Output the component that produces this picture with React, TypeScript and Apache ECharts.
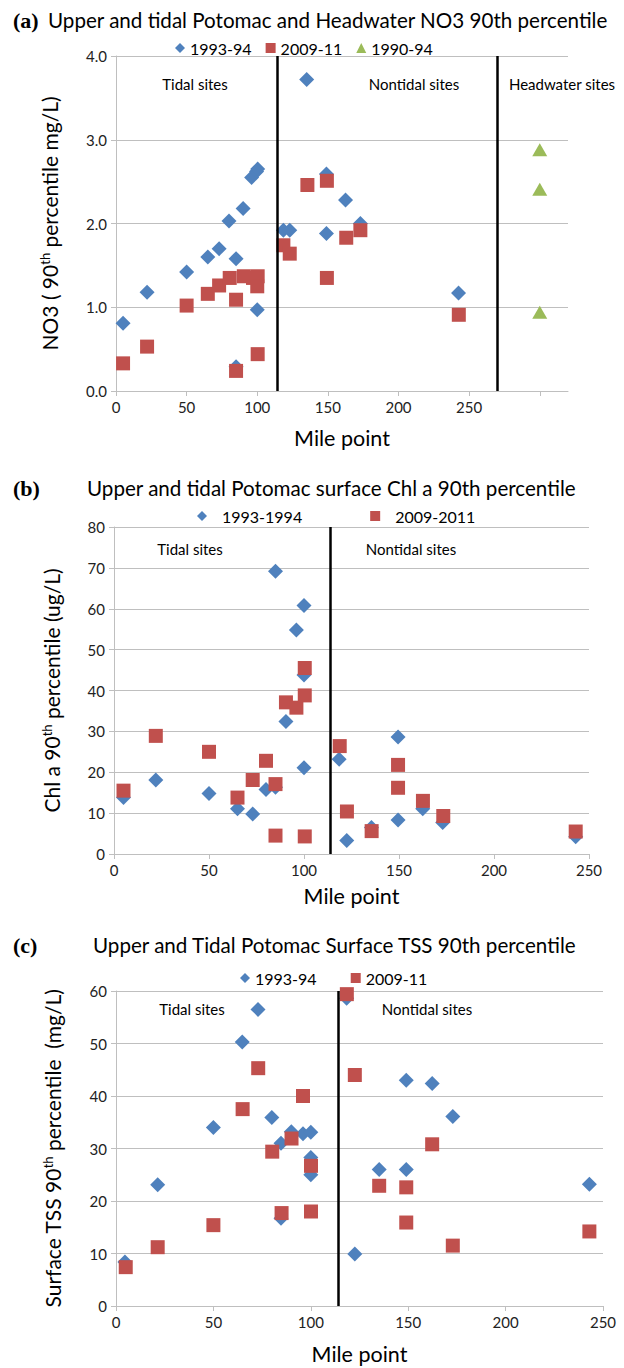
import React, { useEffect, useRef } from "react";
import * as echarts from "echarts";

// ---------- Panel (a): NO3 90th percentile ----------
const aMile9394 = [5, 22, 50, 65, 73, 80, 85, 85, 90, 96, 99.5, 100.3, 100, 118.5, 123, 135, 149, 149, 162.5, 173, 242.5];
const aNO39394 = [0.81, 1.18, 1.42, 1.6, 1.7, 2.03, 1.58, 0.29, 2.18, 2.55, 2.62, 2.65, 0.97, 1.92, 1.92, 3.72, 2.59, 1.88, 2.28, 2.0, 1.17];
const aMile0911 = [5, 22, 50, 65, 73, 80.5, 85, 85, 90.5, 97, 100.3, 100, 100.3, 118.5, 123, 135.5, 149.3, 149.3, 163, 173, 242.7];
const aNO30911 = [0.33, 0.53, 1.02, 1.16, 1.26, 1.35, 1.09, 0.24, 1.37, 1.35, 1.37, 1.25, 0.44, 1.74, 1.64, 2.46, 2.51, 1.35, 1.83, 1.92, 0.91];
const aMile9094 = [300, 300, 300];
const aNO39094 = [2.88, 2.41, 0.94];
const aDividers = [114, 270];

// ---------- Panel (b): Chl a 90th percentile ----------
const bMile9394 = [5, 22, 50, 65, 73, 80, 85, 85, 90.5, 96, 100, 100, 100, 118.5, 122.5, 135.5, 149.5, 149.5, 162.5, 173, 243];
const bChl9394 = [13.8, 18.1, 14.8, 11.1, 9.8, 15.8, 16.3, 69.2, 32.4, 54.8, 60.8, 43.8, 21.1, 23.2, 3.3, 6.5, 28.6, 8.3, 11.1, 7.7, 4.2];
const bMile0911 = [5, 22, 50, 65, 73, 80, 85, 85, 90.5, 96, 100.4, 100.4, 100.4, 118.8, 122.6, 135.6, 149.5, 149.5, 162.6, 173.3, 243];
const bChl0911 = [15.5, 28.9, 25.0, 13.8, 18.1, 22.8, 17.1, 4.5, 37.1, 35.8, 45.5, 38.8, 4.3, 26.4, 10.4, 5.6, 21.8, 16.2, 13.0, 9.3, 5.5];
const bDividers = [114];

// ---------- Panel (c): TSS 90th percentile ----------
const cMile9394 = [4.6, 21.4, 50, 64.8, 72.9, 80, 84.7, 84.7, 90, 96, 100, 100, 100, 118.4, 122.6, 135.1, 149, 149, 162.3, 172.9, 243];
const cTSS9394 = [8.4, 23.1, 34.0, 50.3, 56.5, 35.9, 31.0, 16.7, 33.2, 32.8, 33.1, 28.3, 25.0, 58.6, 9.9, 26.0, 43.0, 26.0, 42.4, 36.1, 23.2];
const cMile0911 = [5, 21.4, 50, 65, 73, 80.2, 85, 90.1, 96, 100.1, 100.1, 118.5, 122.6, 135.1, 149, 149, 162.3, 172.9, 243];
const cTSS0911 = [7.4, 11.2, 15.4, 37.5, 45.3, 29.4, 17.7, 31.9, 40.0, 26.7, 18.0, 59.4, 44.0, 22.9, 22.6, 15.9, 30.8, 11.5, 14.2];
const cDividers = [114];

const xTicksA = [0, 50, 100, 150, 200, 250, 300];

const BLUE = "#4F81BD";
const RED = "#C0504D";
const GREEN = "#9BBB59";
const FONT = "Lato";
const GRIDC = "#BFBFBF";

const zip = (xs: number[], ys: number[]) => xs.map((x, i) => [x, ys[i]]);

export default function App() {
  const ref = useRef<HTMLDivElement>(null);
  useEffect(() => {
    document.body.style.margin = "0";
    const chart = echarts.init(ref.current!, null, { renderer: "svg" });

    const xAxisBase = (idx: number, max: number, extra: any = {}) => ({
      type: "value",
      gridIndex: idx,
      min: 0,
      max,
      interval: 50,
      name: "Mile point",
      nameLocation: "middle",
      nameGap: 34,
      nameTextStyle: { fontFamily: FONT, fontSize: 21.5, color: "#000" },
      axisLine: { show: true, onZero: false, lineStyle: { color: GRIDC, width: 1 } },
      axisTick: { show: true, length: 5, lineStyle: { color: GRIDC } },
      axisLabel: { fontFamily: FONT, fontSize: 15, color: "#222", margin: 8 },
      splitLine: { show: false },
      ...extra,
    });

    const yAxisBase = (idx: number, max: number, interval: number, rich: string, nameGap: number, fmt?: (v: number) => string) => ({
      type: "value",
      gridIndex: idx,
      min: 0,
      max,
      interval,
      name: rich,
      nameLocation: "middle",
      nameGap,
      nameRotate: 90,
      nameTextStyle: {
        fontFamily: FONT,
        fontSize: 21,
        color: "#000",
        rich: {
          sup: { fontFamily: FONT, fontSize: 13, color: "#000", padding: [0, 0, 10, 0] },
        },
      },
      axisLine: { show: true, lineStyle: { color: GRIDC, width: 1 } },
      axisTick: { show: true, length: 5, lineStyle: { color: GRIDC } },
      axisLabel: { fontFamily: FONT, fontSize: 15, color: "#222", margin: 9, formatter: fmt },
      splitLine: { show: true, lineStyle: { color: GRIDC, width: 1 } },
    });

    const divider = (vals: number[]) => ({
      silent: true,
      symbol: "none",
      label: { show: false },
      lineStyle: { color: "#000", width: 2.5, type: "solid" },
      data: vals.map((v) => ({ xAxis: v })),
    });

    const diamond = (name: string, idx: number, xs: number[], ys: number[], marks?: number[]) => ({
      name,
      type: "scatter",
      xAxisIndex: idx,
      yAxisIndex: idx,
      symbol: "diamond",
      symbolSize: [15, 15],
      itemStyle: { color: BLUE, opacity: 1 },
      data: zip(xs, ys),
      z: 2,
      ...(marks ? { markLine: divider(marks) } : {}),
    });
    const square = (name: string, idx: number, xs: number[], ys: number[]) => ({
      name,
      type: "scatter",
      xAxisIndex: idx,
      yAxisIndex: idx,
      symbol: "rect",
      symbolSize: [14, 14],
      itemStyle: { color: RED, opacity: 1 },
      data: zip(xs, ys),
      z: 3,
    });

    const legendText = { fontFamily: FONT, fontSize: 16, color: "#000" };
    const titleStyle = { fontFamily: FONT, fontSize: 20.6, color: "#000", fontWeight: "normal" as const };
    const tagStyle = { fontFamily: "Liberation Serif", fontSize: 22, color: "#000", fontWeight: "bold" as const };
    const siteText = (x: number, y: number, text: string) => ({
      type: "text",
      x,
      y,
      style: { text, fontFamily: FONT, fontSize: 15, fill: "#000", align: "center", verticalAlign: "middle" },
    });

    chart.setOption({
      animation: false,
      backgroundColor: "#fff",
      title: [
        { text: "(a)", left: 8, top: 4, textStyle: tagStyle },
        { text: "Upper and tidal Potomac and Headwater NO3 90th percentile", left: 43, top: 4, textStyle: titleStyle },
        { text: "(b)", left: 8, top: 472, textStyle: tagStyle },
        { text: "Upper and tidal Potomac surface Chl a 90th percentile", left: 82, top: 472, textStyle: titleStyle },
        { text: "(c)", left: 8, top: 929, textStyle: tagStyle },
        { text: "Upper and Tidal Potomac Surface TSS 90th percentile", left: 88, top: 929, textStyle: titleStyle },
      ],
      legend: [
        {
          left: 170,
          top: 35,
          itemWidth: 10,
          itemHeight: 10,
          itemGap: 14,
          textStyle: legendText,
          data: [
            { name: "1993-94", icon: "diamond" },
            { name: "2009-11", icon: "rect" },
            { name: "1990-94", icon: "triangle" },
          ],
          selectedMode: false,
        },
        {
          left: 192,
          top: 503,
          itemWidth: 10,
          itemHeight: 10,
          itemGap: 68,
          textStyle: { ...legendText, padding: [0, 0, 0, 10] },
          data: [
            { name: "1993-1994", icon: "diamond" },
            { name: "2009-2011", icon: "rect" },
          ],
          selectedMode: false,
        },
        {
          left: 235,
          top: 965,
          itemWidth: 10,
          itemHeight: 10,
          itemGap: 30,
          textStyle: legendText,
          data: [
            { name: "1993-94 ", icon: "diamond" },
            { name: "2009-11 ", icon: "rect" },
          ],
          selectedMode: false,
        },
      ],
      grid: [
        { left: 116, right: 56, top: 56, height: 335 },
        { left: 114, right: 35, top: 527, height: 327 },
        { left: 116, right: 21, top: 991, height: 315 },
      ],
      xAxis: [
        xAxisBase(0, 320, {
          axisTick: { show: true, length: 5, lineStyle: { color: GRIDC }, customValues: xTicksA },
          axisLabel: {
            fontFamily: FONT,
            fontSize: 15,
            color: "#222",
            margin: 8,
            customValues: xTicksA.slice(0, 6),
            formatter: (v: number) => (v > 250 ? "" : String(v)),
          },
          nameGap: 36,
        }),
        xAxisBase(1, 250, { nameGap: 31 }),
        xAxisBase(2, 250, { nameGap: 37 }),
      ],
      yAxis: [
        yAxisBase(0, 4, 1, "NO3 ( 90{sup|th} percentile mg/L)", 55, (v: number) => v.toFixed(1)),
        yAxisBase(1, 80, 10, "Chl a 90{sup|th} percentile (ug/L)", 51),
        yAxisBase(2, 60, 10, "Surface TSS 90{sup|th} percentile  (mg/L)", 52),
      ],
      graphic: [
        siteText(195, 84, "Tidal sites"),
        siteText(414, 84, "Nontidal sites"),
        siteText(562, 84, "Headwater sites"),
        siteText(190, 549, "Tidal sites"),
        siteText(411, 549, "Nontidal sites"),
        siteText(192, 1009, "Tidal sites"),
        siteText(427, 1009, "Nontidal sites"),
      ],
      series: [
        diamond("1993-94", 0, aMile9394, aNO39394, aDividers),
        square("2009-11", 0, aMile0911, aNO30911),
        {
          name: "1990-94",
          type: "scatter",
          xAxisIndex: 0,
          yAxisIndex: 0,
          symbol: "triangle",
          symbolSize: [15, 13],
          itemStyle: { color: GREEN, opacity: 1 },
          data: zip(aMile9094, aNO39094),
          z: 3,
        },
        diamond("1993-1994", 1, bMile9394, bChl9394, bDividers),
        square("2009-2011", 1, bMile0911, bChl0911),
        diamond("1993-94 ", 2, cMile9394, cTSS9394, cDividers),
        square("2009-11 ", 2, cMile0911, cTSS0911),
      ],
    });
    return () => chart.dispose();
  }, []);
  return <div ref={ref} style={{ width: 624, height: 1368 }} />;
}
